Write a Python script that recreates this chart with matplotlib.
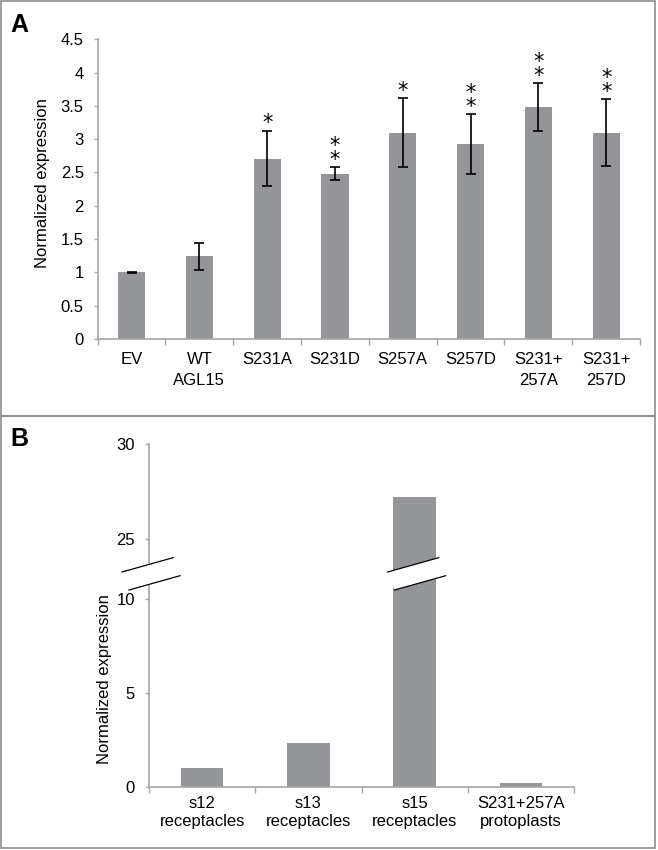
import numpy as np
import matplotlib.pyplot as plt
from matplotlib.patches import Rectangle, Polygon
from matplotlib.lines import Line2D
from matplotlib.ticker import FuncFormatter

plt.rcParams['font.family'] = ['Liberation Sans', 'DejaVu Sans']
plt.rcParams['font.size'] = 12

# panel A data
labels_a = ['EV', 'WT\nAGL15', 'S231A', 'S231D', 'S257A', 'S257D', 'S231+\n257A', 'S231+\n257D']
expr_a = [1.00, 1.24, 2.71, 2.48, 3.10, 2.93, 3.48, 3.10]
err_a = [0.01, 0.20, 0.42, 0.10, 0.52, 0.45, 0.36, 0.50]
stars_a = [0, 0, 1, 2, 1, 2, 2, 2]

# panel B data
labels_b = ['s12\nreceptacles', 's13\nreceptacles', 's15\nreceptacles', 'S231+257A\nprotoplasts']
expr_b = [1.0, 2.34, 27.2, 0.2]

BAR = '#939598'
AXC = '#a6a6a6'
W, H = 658, 850

fig = plt.figure(figsize=(W / 100, H / 100), dpi=100)


def fx(px):
    return px / W


def fy(py):
    return 1 - py / H


def style(ax):
    for s in ['top', 'right']:
        ax.spines[s].set_visible(False)
    for s in ['left', 'bottom']:
        ax.spines[s].set_color(AXC)
        ax.spines[s].set_linewidth(1.2)
    ax.tick_params(axis='y', direction='out', length=3, width=1, color=AXC, pad=7, labelsize=12)
    ax.yaxis.set_major_formatter(FuncFormatter(lambda v, p: f'{v:g}'))


def cat_ticks(ax, labels, pad, ls):
    n = len(labels)
    ax.set_xlim(-0.5, n - 0.5)
    ax.set_xticks(np.arange(n))
    ax.set_xticklabels(labels, linespacing=ls)
    ax.set_xticks(np.arange(-0.5, n), minor=True)
    ax.tick_params(axis='x', which='major', length=0, pad=pad, labelsize=12)
    ax.tick_params(axis='x', which='minor', length=4, width=1, color=AXC)


# panel frames
fig.add_artist(Rectangle((fx(1), fy(416)), fx(654), 415 / H, transform=fig.transFigure,
                         fill=False, ec='#8c8c8c', lw=1.2))
fig.add_artist(Rectangle((fx(1), fy(848)), fx(654), 432 / H, transform=fig.transFigure,
                         fill=False, ec='#8c8c8c', lw=1.2))

# ---- panel A
axA = fig.add_axes([fx(97.7), fy(339), fx(640) - fx(97.7), (339 - 39.3) / H])
style(axA)
xa = np.arange(len(labels_a))
axA.bar(xa, expr_a, width=0.4, color=BAR, zorder=2)
axA.errorbar(xa, expr_a, yerr=err_a, fmt='none', ecolor='black', elinewidth=1.2,
             capsize=3.6, capthick=1.2, zorder=3)
axA.set_ylim(0, 4.5)
axA.set_yticks(np.arange(0, 4.51, 0.5))
cat_ticks(axA, labels_a, pad=9.5, ls=1.5)
for i, k in enumerate(stars_a):
    if k:
        axA.annotate('\n'.join(['*'] * k), (xa[i], expr_a[i] + err_a[i]), xytext=(0, -2),
                     textcoords='offset points', ha='center', va='bottom',
                     fontsize=15, family='DejaVu Sans', linespacing=0.62)

fig.text(fx(43), fy(183.5), 'Normalized expression', rotation=90, ha='center', va='center', fontsize=12)
fig.text(fx(10), fy(31.5), 'A', fontsize=18, weight='bold', va='baseline')

# ---- panel B (broken axis)
split = 574
axLo = fig.add_axes([fx(149), fy(786.7), fx(574) - fx(149), (786.7 - split) / H])
axHi = fig.add_axes([fx(149), fy(split), fx(574) - fx(149), (split - 444.3) / H])
xb = np.arange(len(labels_b))
for ax in (axLo, axHi):
    style(ax)
    ax.bar(xb, expr_b, width=0.4, color=BAR, zorder=2)
    ax.set_xlim(-0.5, len(labels_b) - 0.5)
axLo.set_ylim(0, 11.33)
axLo.set_yticks([0, 5, 10])
cat_ticks(axLo, labels_b, pad=6.5, ls=1.3)
axHi.set_ylim(23.15, 30)
axHi.set_yticks([25, 30])
axHi.spines['bottom'].set_visible(False)
axHi.tick_params(axis='x', which='both', length=0, labelbottom=False)

# break marks on the y axis and on the tall bar
inv = fig.transFigure.inverted()
ybrk = axLo.transAxes.transform((0, 1))[1]
centers = [axLo.transAxes.transform((0, 1))[0], axLo.transData.transform((2, 0))[0]]
for cx in centers:
    cx += 2
    top = [(cx - 29, ybrk + 2), (cx + 22, ybrk + 16.3)]
    bot = [(cx - 22, ybrk - 16), (cx + 29, ybrk - 1.7)]
    poly = inv.transform(top + bot[::-1])
    fig.add_artist(Polygon(poly, closed=True, fc='white', ec='none', transform=fig.transFigure, zorder=5))
    for seg in (top, bot):
        p = inv.transform(seg)
        fig.add_artist(Line2D(p[:, 0], p[:, 1], color='black', lw=0.9, transform=fig.transFigure, zorder=6))

fig.text(fx(105), fy(679), 'Normalized expression', rotation=90, ha='center', va='center', fontsize=12)
fig.text(fx(10), fy(446), 'B', fontsize=18, weight='bold', va='baseline')

fig.savefig('out.png', dpi=100)
